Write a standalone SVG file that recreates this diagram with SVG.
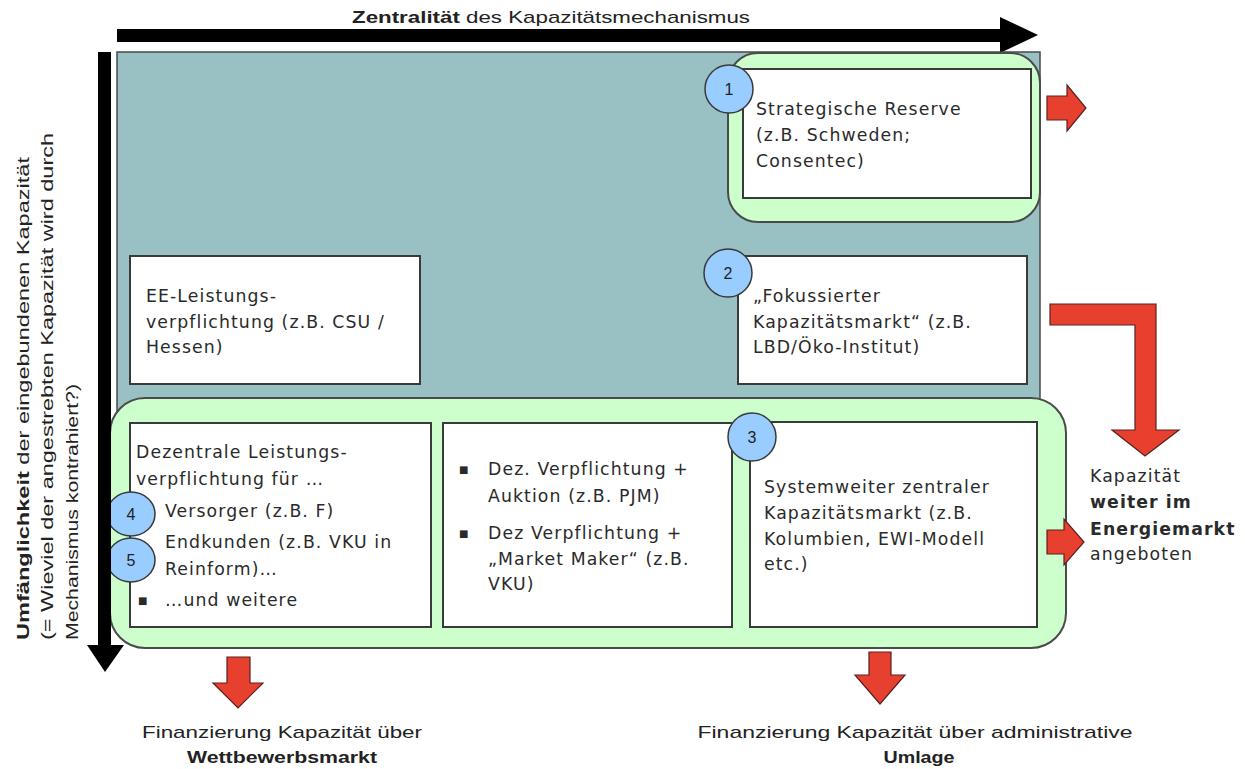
<svg xmlns="http://www.w3.org/2000/svg" width="1245" height="769" viewBox="0 0 1245 769">
<style>
.bg{fill:#fff}
.teal{fill:#99C0C2;stroke:#4a4a4a;stroke-width:1.5}
.grn{fill:#CCFFCC;stroke:#4a4a4a;stroke-width:2}
.box{fill:#fff;stroke:#3a3a3a;stroke-width:2}
.num{fill:#99CCFF;stroke:#3a3a3a;stroke-width:1.5}
.numt{font-family:"Liberation Sans",Arial,sans-serif;font-size:16px;fill:#222;text-anchor:middle}
.t{font-family:"DejaVu Sans",sans-serif;font-size:17.3px;letter-spacing:1.1px;fill:#2a2a2a}
.bul{font-family:"DejaVu Sans",sans-serif;font-size:10px;fill:#2a2a2a}
.b{font-weight:bold}
.lab{font-family:"Liberation Sans",Arial,sans-serif;font-size:17px;fill:#222}
.red{fill:#E8402F;stroke:#5a2020;stroke-width:1.2}
.blk{fill:#000}
</style>
<rect class="bg" x="0" y="0" width="1245" height="769"/>

<g id="axis-top">
<text class="lab" x="352" y="23" textLength="398" lengthAdjust="spacingAndGlyphs"><tspan class="b">Zentralität</tspan> des Kapazitätsmechanismus</text>
<path class="blk" d="M117,29 H1000 V17 L1038,35 L1000,53 V42 H117 Z"/>
</g>

<g id="axis-left">
<text class="lab" transform="translate(29,640) rotate(-90)" textLength="483" lengthAdjust="spacingAndGlyphs"><tspan class="b">Umfänglichkeit</tspan> der eingebundenen  Kapazität</text>
<text class="lab" transform="translate(53,640) rotate(-90)" textLength="507" lengthAdjust="spacingAndGlyphs">(= Wieviel der angestrebten Kapazität wird durch</text>
<text class="lab" transform="translate(78,640) rotate(-90)" textLength="256" lengthAdjust="spacingAndGlyphs">Mechanismus kontrahiert?)</text>
</g>

<g id="background">
<rect class="teal" x="117" y="52" width="923" height="360"/>
</g>

<g id="node-1">
<rect class="grn" x="728" y="53" width="312" height="169" rx="30"/>
<rect class="box" x="743" y="69" width="288" height="129"/>
<circle class="num" cx="729" cy="89" r="24"/>
<text class="numt" x="729" y="95">1</text>
<text class="t" x="756" y="115">Strategische Reserve</text>
<text class="t" x="756" y="141">(z.B. Schweden;</text>
<text class="t" x="756" y="167">Consentec)</text>
</g>

<g id="node-ee">
<rect class="box" x="130" y="256" width="290" height="128"/>
<text class="t" x="146" y="302">EE-Leistungs-</text>
<text class="t" x="146" y="328">verpflichtung (z.B. CSU /</text>
<text class="t" x="146" y="353">Hessen)</text>
</g>

<g id="node-2">
<rect class="box" x="738" y="256" width="289" height="128"/>
<circle class="num" cx="728" cy="273" r="24"/>
<text class="numt" x="728" y="279">2</text>
<text class="t" x="753" y="302">„Fokussierter</text>
<text class="t" x="753" y="328">Kapazitätsmarkt“ (z.B.</text>
<text class="t" x="753" y="353">LBD/Öko-Institut)</text>
</g>

<g id="group-bottom">
<rect class="grn" x="110" y="398" width="956" height="250" rx="35"/>
</g>

<g id="node-dezentral">
<rect class="box" x="130" y="423" width="301" height="204"/>
<text class="t" x="136" y="458">Dezentrale Leistungs-</text>
<text class="t" x="136" y="485">verpflichtung für …</text>
<text class="t" x="165" y="517">Versorger (z.B. F)</text>
<text class="t" x="165" y="548">Endkunden (z.B. VKU in</text>
<text class="t" x="165" y="575">Reinform)…</text>
<text class="bul" x="138" y="604">■</text>
<text class="t" x="165" y="606">…und weitere</text>
<ellipse class="num" cx="131" cy="514" rx="24" ry="22"/>
<text class="numt" x="131" y="520">4</text>
<ellipse class="num" cx="131" cy="560" rx="24" ry="22"/>
<text class="numt" x="131" y="566">5</text>
</g>

<g id="node-dez-auktion">
<rect class="box" x="443" y="423" width="289" height="204"/>
<text class="bul" x="459" y="473">■</text>
<text class="t" x="488" y="475">Dez. Verpflichtung +</text>
<text class="t" x="488" y="502">Auktion (z.B. PJM)</text>
<text class="bul" x="459" y="537">■</text>
<text class="t" x="488" y="539">Dez Verpflichtung +</text>
<text class="t" x="488" y="565">„Market Maker“ (z.B.</text>
<text class="t" x="488" y="590">VKU)</text>
</g>

<g id="node-3">
<rect class="box" x="750" y="422" width="287" height="205"/>
<circle class="num" cx="752" cy="437" r="24"/>
<text class="numt" x="752" y="443">3</text>
<text class="t" x="764" y="493">Systemweiter zentraler</text>
<text class="t" x="764" y="519">Kapazitätsmarkt (z.B.</text>
<text class="t" x="764" y="545">Kolumbien, EWI-Modell</text>
<text class="t" x="764" y="570">etc.)</text>
</g>

<g id="label-energiemarkt">
<text class="t" x="1090" y="482">Kapazität</text>
<text class="t b" x="1090" y="508" letter-spacing="0.3">weiter im</text>
<text class="t b" x="1090" y="535" letter-spacing="0.3">Energiemarkt</text>
<text class="t" x="1090" y="560">angeboten</text>
</g>

<g id="label-wettbewerb">
<text class="lab" x="282" y="738" text-anchor="middle" textLength="280" lengthAdjust="spacingAndGlyphs">Finanzierung Kapazität über</text>
<text class="lab b" x="282" y="763" text-anchor="middle" textLength="190" lengthAdjust="spacingAndGlyphs">Wettbewerbsmarkt</text>
</g>

<g id="label-umlage">
<text class="lab" x="915" y="738" text-anchor="middle" textLength="435" lengthAdjust="spacingAndGlyphs">Finanzierung Kapazität über administrative</text>
<text class="lab b" x="919" y="763" text-anchor="middle" textLength="71" lengthAdjust="spacingAndGlyphs">Umlage</text>
</g>

<g id="connectors">
<path class="blk" d="M98,52 H111 V645 H124 L105,672 L87,645 H98 Z"/>
<path class="red" d="M1047,96 H1067 V85 L1086,108 L1067,131 V120 H1047 Z"/>
<path class="red" d="M1050,304 H1156 V430 H1179 L1145,456 L1112,430 H1135 V325 H1050 Z"/>
<path class="red" d="M1047,530 H1064 V519 L1084,542 L1064,565 V554 H1047 Z"/>
<path class="red" d="M227,657 H250 V683 H263 L238,708 L213,683 H227 Z"/>
<path class="red" d="M869,652 H891 V675 H905 L880,704 L855,675 H869 Z"/>
</g>
</svg>
